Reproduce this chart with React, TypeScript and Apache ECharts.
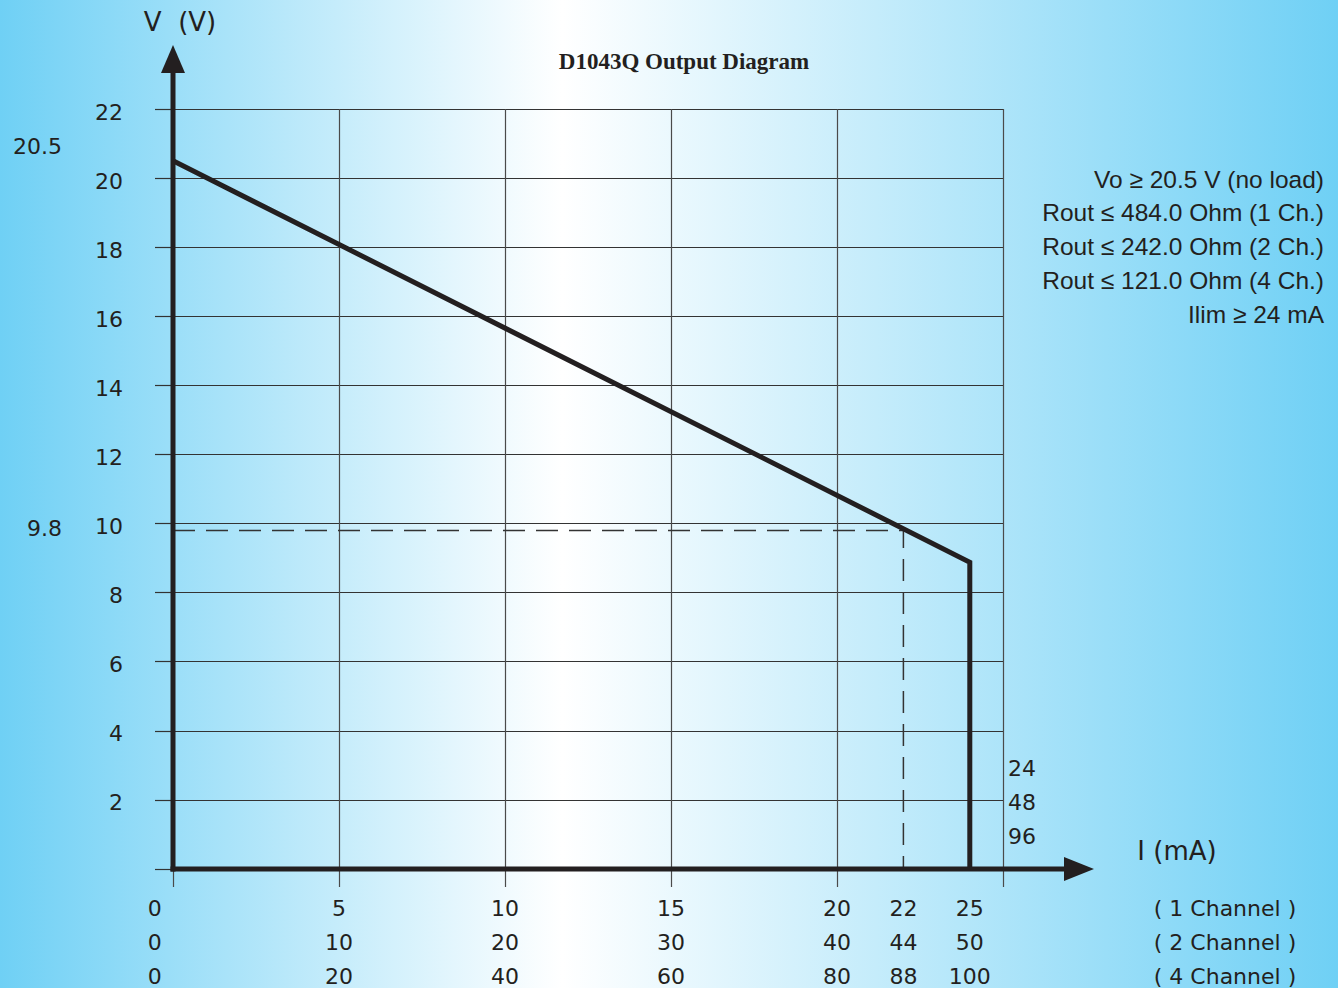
import React, { useEffect, useRef } from "react";
import * as echarts from "echarts";

// ---- data ----
const curveI = [0, 24, 24];
const curveV = [20.5, 8.88, 0];
const dashI = [0, 22, 22];
const dashV = [9.8, 9.8, 0];
const xMin = 0, xMax = 25, xInterval = 5;
const yMin = 0, yMax = 22, yInterval = 2;
const yTickLabels = ["2", "4", "6", "8", "10", "12", "14", "16", "18", "20", "22"];
const yTickValues = [2, 4, 6, 8, 10, 12, 14, 16, 18, 20, 22];
// x tick label rows (value where each label sits, and its text per channel config)
const xLabelAt = [-0.55, 5, 10, 15, 20, 22, 24];
const xLabels1 = ["0", "5", "10", "15", "20", "22", "25"];
const xLabels2 = ["0", "10", "20", "30", "40", "44", "50"];
const xLabels4 = ["0", "20", "40", "60", "80", "88", "100"];
const channelLabels = ["( 1 Channel )", "( 2 Channel )", "( 4 Channel )"];
const limitLabels = ["24", "48", "96"];
const markedV = [20.5, 9.8];
const infoLines = [
  "Vo ≥ 20.5 V (no load)",
  "Rout ≤ 484.0 Ohm (1 Ch.)",
  "Rout ≤ 242.0 Ohm (2 Ch.)",
  "Rout ≤ 121.0 Ohm (4 Ch.)",
  "Ilim ≥ 24 mA",
];
const title = "D1043Q Output Diagram";

const INK = "#231f20";
const GEO = "'DejaVu Sans', sans-serif";

export default function App() {
  const ref = useRef<HTMLDivElement>(null);
  useEffect(() => {
    if (!ref.current) return;
    const chart = echarts.init(ref.current, null, { renderer: "svg" });
    const option: any = {
      animation: false,
      backgroundColor: new echarts.graphic.LinearGradient(0, 0, 1, 0, [
        { offset: 0, color: "#6fd0f5" },
        { offset: 0.42, color: "#ffffff" },
        { offset: 1, color: "#6fd0f5" },
      ]),
      grid: { left: 173, right: 335, top: 109, bottom: 119 },
      xAxis: {
        type: "value",
        min: xMin,
        max: xMax,
        interval: xInterval,
        axisLine: { show: false },
        axisTick: { show: true, length: 18, lineStyle: { color: "#4a4a4a", width: 1.2 } },
        axisLabel: { show: false },
        splitLine: { show: true, lineStyle: { color: "#4a4a4a", width: 1.2 } },
      },
      yAxis: {
        type: "value",
        min: yMin,
        max: yMax,
        interval: yInterval,
        axisLine: { show: false },
        axisTick: { show: true, length: 18, lineStyle: { color: "#333", width: 1.2 } },
        axisLabel: { show: false },
        splitLine: { show: true, lineStyle: { color: "#333", width: 1.2 } },
      },
      series: [
        {
          type: "line",
          data: dashI.map((x, i) => [x, dashV[i]]),
          symbol: "none",
          lineStyle: { color: "#333", width: 1.5, type: [22, 11] },
          z: 3,
        },
        {
          type: "line",
          data: curveI.map((x, i) => [x, curveV[i]]),
          symbol: "none",
          lineStyle: { color: INK, width: 5, join: "miter" },
          z: 5,
        },
      ],
    };
    chart.setOption(option);

    const p = (x: number, y: number) => chart.convertToPixel({ gridIndex: 0 }, [x, y]) as number[];
    const o = p(0, 0);
    const g: any[] = [];
    // thick axes with arrows
    g.push({ type: "line", shape: { x1: o[0], y1: o[1] + 2.5, x2: o[0], y2: 70 }, style: { stroke: INK, lineWidth: 5 }, z: 10 });
    g.push({ type: "polygon", shape: { points: [[o[0], 45], [o[0] - 12, 73], [o[0] + 12, 73]] }, style: { fill: INK }, z: 10 });
    g.push({ type: "line", shape: { x1: o[0] - 2.5, y1: o[1], x2: 1068, y2: o[1] }, style: { stroke: INK, lineWidth: 5 }, z: 10 });
    g.push({ type: "polygon", shape: { points: [[1094, o[1]], [1064, o[1] - 12], [1064, o[1] + 12]] }, style: { fill: INK }, z: 10 });

    const txt = (x: number, y: number, text: string, align: string, font: string, size: number, weight = "normal") => ({
      type: "text",
      x,
      y,
      z: 11,
      style: { text, fill: INK, font: `${weight} ${size}px ${font}`, align, verticalAlign: "middle" },
    });

    // y tick labels
    yTickValues.forEach((v, i) => g.push(txt(123, p(0, v)[1] + 3, yTickLabels[i], "right", GEO, 22)));
    // x label rows
    const rows = [xLabels1, xLabels2, xLabels4];
    rows.forEach((row, r) => {
      row.forEach((t, i) => {
        const px = p(xLabelAt[i], 0)[0];
        g.push(txt(px, o[1] + 39 + r * 34, t, "center", GEO, 22));
      });
      g.push(txt(1225, o[1] + 39 + r * 34, channelLabels[r], "center", GEO, 22));
    });
    // limit labels near x max
    const xr = p(xMax, 0)[0];
    limitLabels.forEach((t, i) => g.push(txt(xr + 5, o[1] - 101 + i * 34, t, "left", GEO, 22)));
    // marked voltages on the left
    const markedOffset = [-14, -2];
    markedV.forEach((v, i) => g.push(txt(62, p(0, v)[1] + markedOffset[i], String(v), "right", GEO, 22)));
    // axis names
    g.push(txt(180, 22, "V  (V)", "center", GEO, 26));
    g.push(txt(1177, 851, "I (mA)", "center", GEO, 26));
    // title
    g.push(txt(684, 61, title, "center", "'Liberation Serif', 'Times New Roman', serif", 23, "bold"));
    // info block
    infoLines.forEach((t, i) => g.push(txt(1324, 179 + i * 33.8, t, "right", "'Liberation Sans', Arial, sans-serif", 24.5)));

    chart.setOption({ graphic: g });
    return () => chart.dispose();
  }, []);
  return <div ref={ref} style={{ position: "fixed", left: 0, top: 0, width: 1338, height: 988 }} />;
}
